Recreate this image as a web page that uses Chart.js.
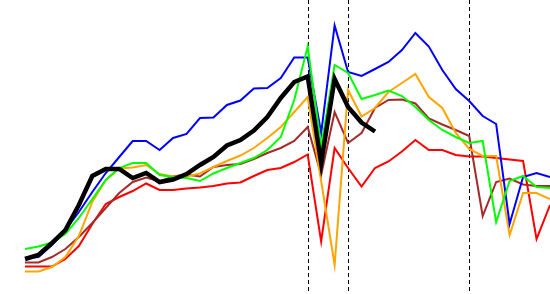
<!DOCTYPE html>
<html>
<head>
<meta charset="utf-8">
<script src="https://cdn.jsdelivr.net/npm/chart.js@4/dist/chart.umd.min.js"></script>
<style>
  html, body { margin: 0; padding: 0; background: #fff; }
  #wrap { width: 550px; height: 294px; position: relative; }
</style>
</head>
<body>
<div id="wrap"><canvas id="chart"></canvas></div>
<script>
// 40 samples, no visible axes; values are read as distance from the top
const labels = Array.from({ length: 40 }, (_, i) => String(i + 1));

const blackSeries = [259, 255, 243, 230, 205, 176, 169, 169, 178, 173,
  182, 179.5, 174, 165, 157, 145.5, 140, 130.5, 117, 98,
  82, 76.5, 163, 79, 107, 122.5, 131.5];

const blueSeries = [258, 257, 245, 230, 212, 192, 173, 157, 141, 141,
  150, 138, 134, 118, 117.5, 105, 100.5, 88.5, 88, 78,
  57.5, 57.5, 133, 25.5, 72, 76, 69, 62, 50, 33,
  46.5, 70, 89, 101, 116, 124, 224, 177, 173, 177];

const greenSeries = [249, 246.5, 242.5, 234, 218, 199, 180, 168, 163, 163,
  175, 177, 178, 181, 173.5, 168, 163, 158, 150, 137,
  100, 46.5, 146.7, 65, 73, 99, 95, 90.5, 96, 107,
  120, 130, 137, 143, 141, 222, 181, 176, 187, 188];

const orangeSeries = [271.5, 271.5, 267, 257, 236, 202, 180, 168.5, 167.5, 165,
  174, 176.5, 176.5, 173.5, 167, 161, 155.5, 148, 138, 127,
  112, 97, 181, 265, 90, 116.5, 108, 92, 83, 74,
  97, 108, 133, 149, 156, 156, 235, 193, 193, 199];

const brownSeries = [262.5, 262.5, 257, 249, 237, 223, 208, 193, 182, 177.5,
  181.5, 176.5, 174.5, 176.5, 167, 165, 164, 159, 153, 148,
  141, 127, 175, 112, 143, 133, 108, 100, 99.5, 103.5,
  118.5, 124.5, 130, 136, 216, 182, 178.5, 184.5, 186, 186];

const redSeries = [266.5, 266.5, 266.5, 259, 246, 224, 204, 197, 191, 183.5,
  190, 190, 188.5, 187.5, 186, 183.5, 182.5, 176, 170, 168,
  162, 154.5, 241.5, 148, 168, 186.5, 168, 161.5, 151.5, 140,
  150, 150, 155, 156.5, 156.5, 158, 159.5, 161, 239, 205];

// positions of the dashed vertical markers (category index)
const markerIndexes = [21, 24, 33];

const lineDefaults = {
  fill: false,
  tension: 0,
  pointRadius: 0,
  borderWidth: 2
};

const markerPlugin = {
  id: 'markers',
  beforeDatasetsDraw(chart) {
    const { ctx, scales: { x } } = chart;
    ctx.save();
    ctx.strokeStyle = '#000';
    ctx.lineWidth = 1;
    ctx.setLineDash([4, 3]);
    markerIndexes.forEach(i => {
      const px = Math.round(x.getPixelForValue(i)) + 0.5;
      ctx.beginPath();
      ctx.moveTo(px, 0);
      ctx.lineTo(px, chart.height);
      ctx.stroke();
    });
    ctx.restore();
  }
};

new Chart(document.getElementById('chart'), {
  type: 'line',
  data: {
    labels: labels,
    datasets: [
      { ...lineDefaults, label: 'black', data: blackSeries, borderColor: '#000000', borderWidth: 4.5, order: 0 },
      { ...lineDefaults, label: 'green', data: greenSeries, borderColor: '#00ff00', order: 1 },
      { ...lineDefaults, label: 'blue', data: blueSeries, borderColor: '#0000ff', order: 2 },
      { ...lineDefaults, label: 'orange', data: orangeSeries, borderColor: '#ffa500', order: 3 },
      { ...lineDefaults, label: 'brown', data: brownSeries, borderColor: '#a52a2a', order: 4 },
      { ...lineDefaults, label: 'red', data: redSeries, borderColor: '#ff0000', order: 5 }
    ]
  },
  options: {
    responsive: true,
    maintainAspectRatio: false,
    animation: false,
    layout: { padding: { left: 25, right: 0, top: 0, bottom: 0 } },
    plugins: {
      legend: { display: false },
      tooltip: { enabled: false }
    },
    scales: {
      x: { display: false, offset: false },
      y: { display: false, reverse: true, min: 0, max: 294 }
    }
  },
  plugins: [markerPlugin]
});
</script>
</body>
</html>
